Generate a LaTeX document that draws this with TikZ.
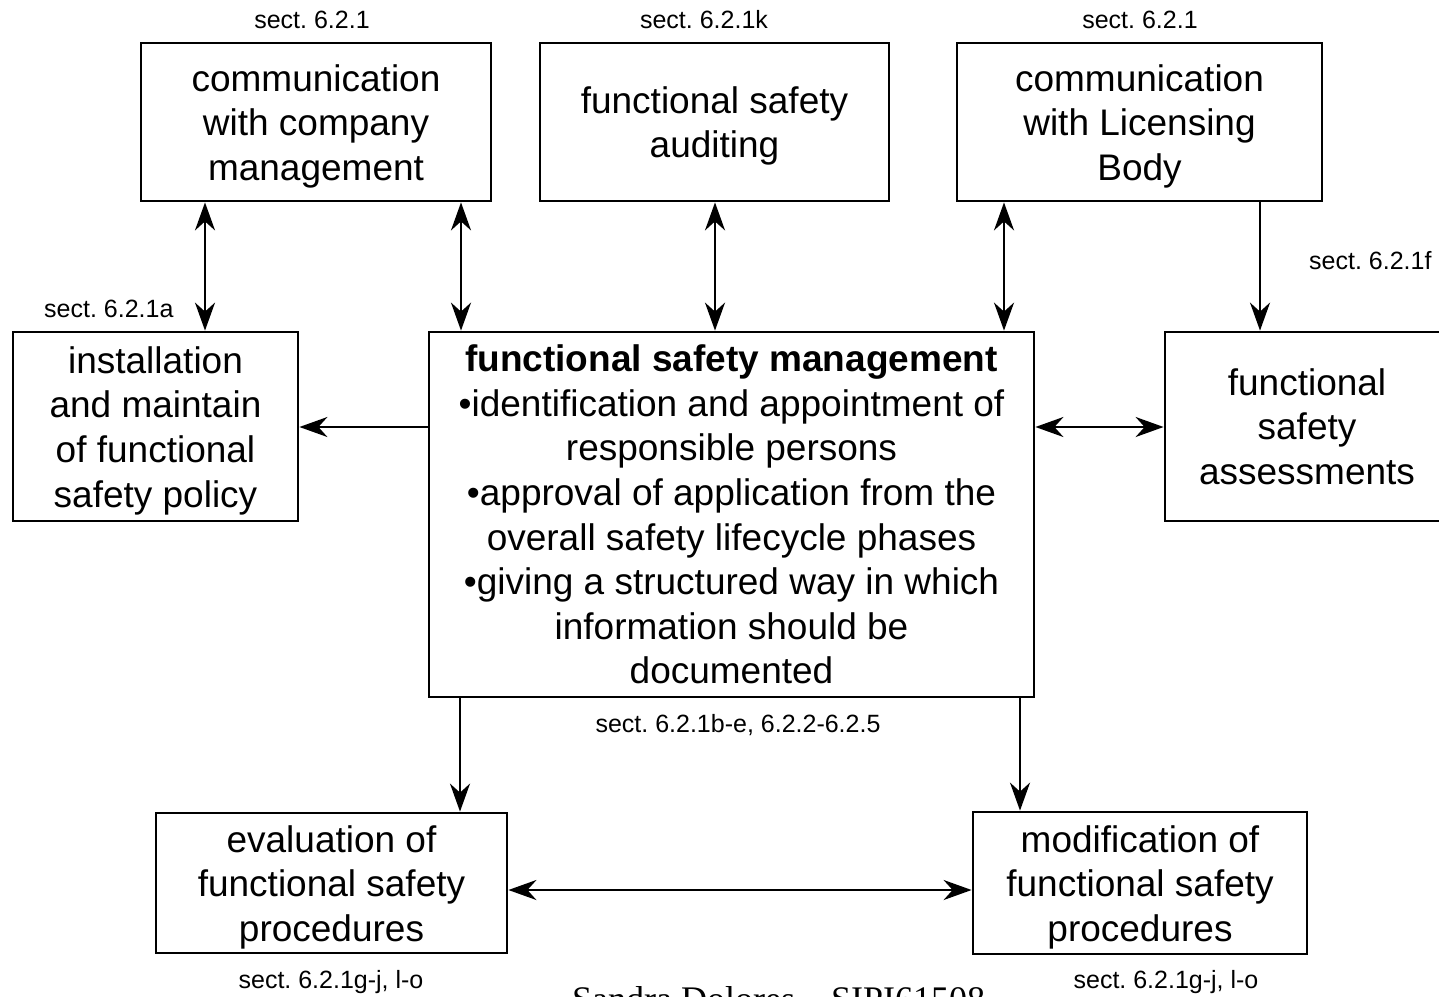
\documentclass[tikz,border=0pt]{standalone}
\usepackage{fontspec}
\setmainfont{Liberation Sans}
\newfontfamily\credfont{Liberation Serif}
\usetikzlibrary{arrows.meta}
\frenchspacing
% taller first line, so text ending in a descender sits centred in its box
\newcommand\liftline{\rule{0pt}{35pt}}

\begin{document}
\begin{tikzpicture}[x=1pt,y=-1pt,
  box/.style={draw, line width=2.8pt, inner sep=0pt, align=center,
    font=\fontsize{37}{44.6}\selectfont},
  tip/.tip={Stealth[length=28pt,width=20pt,inset=9pt]},
  link/.style={line width=2.4pt, -tip},
  both/.style={line width=2.4pt, tip-tip},
  sect/.style={font=\fontsize{25}{30}\selectfont, inner sep=0pt, anchor=base}]
\useasboundingbox (0,0) rectangle (1439,996);
\clip (0,0) rectangle (1439,996);
\fill[white] (0,0) rectangle (1439,996);

% boxes
\node[box, minimum width=350pt, minimum height=158pt] (comp) at (316,122)
  {\liftline communication\\with company\\management};
\node[box, minimum width=349pt, minimum height=158pt] (audit) at (714.5,122)
  {\liftline functional safety\\auditing};
\node[box, minimum width=365pt, minimum height=158pt] (lic) at (1139.5,122)
  {\liftline communication\\with Licensing\\Body};
\node[box, minimum width=285pt, minimum height=189pt] (policy) at (155.5,426.5)
  {\liftline installation\\and maintain\\of functional\\safety policy};
\node[box, minimum width=605pt, minimum height=365pt] (fsm) at (731.5,514.5)
  {\textbf{functional safety management}\\
   •identification and appointment of\\responsible persons\\
   •approval of application from the\\overall safety lifecycle phases\\
   •giving a structured way in which\\information should be\\documented};
\node[box, minimum width=284pt, minimum height=189pt] (assess) at (1307,426.5)
  {functional\\safety\\assessments};
\node[box, minimum width=351pt, minimum height=140pt] (eval) at (331.5,883)
  {\liftline evaluation of\\functional safety\\procedures};
\node[box, minimum width=334pt, minimum height=142pt] (modif) at (1140,883)
  {\liftline modification of\\functional safety\\procedures};

% section references
\node[sect] (s1) at (312,28) {sect. 6.2.1};
\node[sect] (s2) at (704,28) {sect. 6.2.1k};
\node[sect] (s3) at (1140,28) {sect. 6.2.1};
\node[sect, anchor=base west] (s4) at (1309,269) {sect. 6.2.1f};
\node[sect, anchor=base west] (s5) at (44,317) {sect. 6.2.1a};
\node[sect] (s6) at (738,732) {sect. 6.2.1b-e, 6.2.2-6.2.5};
\node[sect] (s7) at (331,988) {sect. 6.2.1g-j, l-o};
\node[sect] (s8) at (1166,988) {sect. 6.2.1g-j, l-o};

% credit line running off the lower edge
\node[font=\credfont\fontsize{36}{40}\selectfont, inner sep=0pt, anchor=base west]
  (cred) at (572,1011) {Sandra Dolores – SIPI61508};

% connectors
\draw[both] (comp.south -| 205,0) -- (policy.north -| 205,0);
\draw[both] (comp.south -| 461,0) -- (fsm.north -| 461,0);
\draw[both] (audit.south -| 715,0) -- (fsm.north -| 715,0);
\draw[both] (lic.south -| 1004,0) -- (fsm.north -| 1004,0);
\draw[link] (lic.south -| 1260,0) -- (assess.north -| 1260,0);
\draw[link] (fsm.west |- 0,427) -- (policy.east |- 0,427);
\draw[both] (fsm.east |- 0,427) -- (assess.west |- 0,427);
\draw[link] (fsm.south -| 460,0) -- (eval.north -| 460,0);
\draw[link] (fsm.south -| 1020,0) -- (modif.north -| 1020,0);
\draw[both] (eval.east |- 0,890) -- (modif.west |- 0,890);
\end{tikzpicture}
\end{document}
